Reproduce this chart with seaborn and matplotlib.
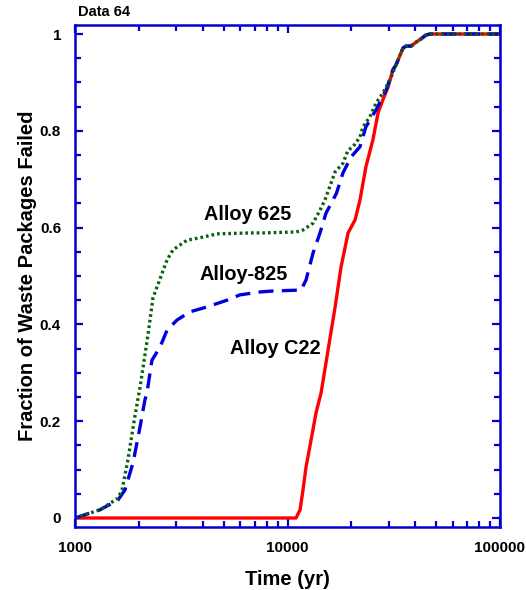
"""Fraction of waste packages failed vs time for three alloys."""
import numpy as np
import pandas as pd
import matplotlib
matplotlib.use('Agg')
import matplotlib.pyplot as plt
import seaborn as sns
from matplotlib.ticker import FixedLocator, NullFormatter

# values
t_625 = [1000, 1312, 1593, 1665, 1774, 1913, 2023, 2208, 2328, 2710, 2891, 3366, 3874,
         4655, 6670, 7680, 10970, 11830, 13180, 14220, 15000, 16750, 18240, 19280,
         20330, 21930, 22650, 24430, 26080, 28110, 30340, 32400, 34970, 36130, 38150,
         40250, 42500, 44870, 46880, 100000]
f_625 = [0.0, 0.017, 0.041, 0.058, 0.12, 0.21, 0.27, 0.38, 0.455, 0.533, 0.554, 0.574,
         0.579, 0.587, 0.589, 0.589, 0.591, 0.595, 0.609, 0.636, 0.657, 0.715, 0.733,
         0.76, 0.767, 0.787, 0.808, 0.829, 0.857, 0.878, 0.905, 0.936, 0.971, 0.975,
         0.975, 0.983, 0.99, 0.998, 1.0, 1.0]

t_825 = [1000, 1312, 1593, 1718, 1875, 2023, 2133, 2180, 2302, 2512, 2710, 3020, 3475,
         4176, 5188, 5970, 7430, 8500, 11590, 12230, 13180, 14220, 15180, 16370, 17000,
         18240, 19910, 21930, 23370, 26080, 29100, 31330, 32400, 34970, 36130, 38150,
         40250, 42500, 44870, 46880, 100000]
f_825 = [0.0, 0.017, 0.037, 0.058, 0.114, 0.188, 0.244, 0.258, 0.326, 0.353, 0.388,
         0.409, 0.426, 0.436, 0.45, 0.461, 0.467, 0.469, 0.471, 0.492, 0.547, 0.589,
         0.63, 0.657, 0.671, 0.713, 0.746, 0.767, 0.808, 0.843, 0.884, 0.926, 0.936,
         0.971, 0.975, 0.975, 0.983, 0.99, 0.998, 1.0, 1.0]

t_c22 = [1000, 10970, 11460, 11830, 12220, 12910, 13620, 14380, 15520, 16750, 17870,
         19280, 20800, 21930, 23370, 25220, 26680, 28110, 29720, 31330, 32400, 34970,
         36130, 38150, 40250, 42500, 44870, 46880, 100000]
f_c22 = [0.0, 0.0, 0.017, 0.058, 0.105, 0.161, 0.217, 0.258, 0.347, 0.436, 0.519,
         0.589, 0.616, 0.657, 0.725, 0.781, 0.837, 0.864, 0.89, 0.926, 0.936, 0.971,
         0.975, 0.975, 0.983, 0.99, 0.998, 1.0, 1.0]

labels = ['Alloy 625', 'Alloy-825', 'Alloy C22']
label_x = [6520, 6200, 8730]
label_y = [0.628, 0.503, 0.351]

x_ticks = [1000, 10000, 100000]
y_ticks = [0, 0.2, 0.4, 0.6, 0.8, 1]

sns.set_style('ticks')
plt.rcParams['font.family'] = ['Liberation Sans', 'DejaVu Sans']
plt.rcParams['font.weight'] = 'bold'
plt.rcParams['text.color'] = 'black'
plt.rcParams['axes.labelcolor'] = 'black'
plt.rcParams['xtick.labelcolor'] = 'black'
plt.rcParams['ytick.labelcolor'] = 'black'

frame_blue = '#0000d0'

fig = plt.figure(figsize=(5.26, 5.90), dpi=100)
ax = fig.add_axes([75 / 526, 1 - 527 / 590, 425 / 526, 502 / 590])

df_c22 = pd.DataFrame({'t': t_c22, 'f': f_c22})
df_825 = pd.DataFrame({'t': t_825, 'f': f_825})
df_625 = pd.DataFrame({'t': t_625, 'f': f_625})

sns.lineplot(data=df_c22, x='t', y='f', ax=ax, color='#ff0000', lw=2.4,
             estimator=None, sort=False)
sns.lineplot(data=df_825, x='t', y='f', ax=ax, color='#0000dd', lw=2.4,
             estimator=None, sort=False, dashes=False, linestyle=(0, (4.5, 2.5)))
sns.lineplot(data=df_625, x='t', y='f', ax=ax, color='#0b600b', lw=2.4,
             estimator=None, sort=False, linestyle=(0, (0.8, 0.9)))

ax.set_xscale('log')
ax.set_xlim(1000, 100000)
ax.set_ylim(-0.0186, 1.0186)

ax.xaxis.set_major_locator(FixedLocator(x_ticks))
ax.set_xticklabels([str(v) for v in x_ticks])
ax.xaxis.set_minor_locator(FixedLocator([m * d for d in (1000, 10000) for m in range(2, 10)]))
ax.xaxis.set_minor_formatter(NullFormatter())
ax.yaxis.set_major_locator(FixedLocator(y_ticks))
ax.set_yticklabels([f'{v:g}' for v in y_ticks])
ax.yaxis.set_minor_locator(FixedLocator(np.arange(0, 1.001, 0.05)))

for s in ax.spines.values():
    s.set_color(frame_blue)
    s.set_linewidth(1.8)
ax.tick_params(which='both', direction='in', top=True, right=True, color=frame_blue,
               width=1.6, labelsize=11)
ax.tick_params(which='major', length=6, pad=10)
ax.tick_params(which='minor', length=4)

ax.set_xlabel('Time (yr)', fontsize=14.5, fontweight='bold', labelpad=11)
ax.set_ylabel('Fraction of Waste Packages Failed', fontsize=14.5, fontweight='bold',
              labelpad=2)

for name, x, y in zip(labels, label_x, label_y):
    ax.text(x, y, name, fontsize=14.3, fontweight='bold', ha='center', va='center')

ax.text(0.007, 1.012, 'Data 64', transform=ax.transAxes, fontsize=10.5,
        fontweight='bold', ha='left', va='bottom')

fig.savefig('out.png', dpi=100)
